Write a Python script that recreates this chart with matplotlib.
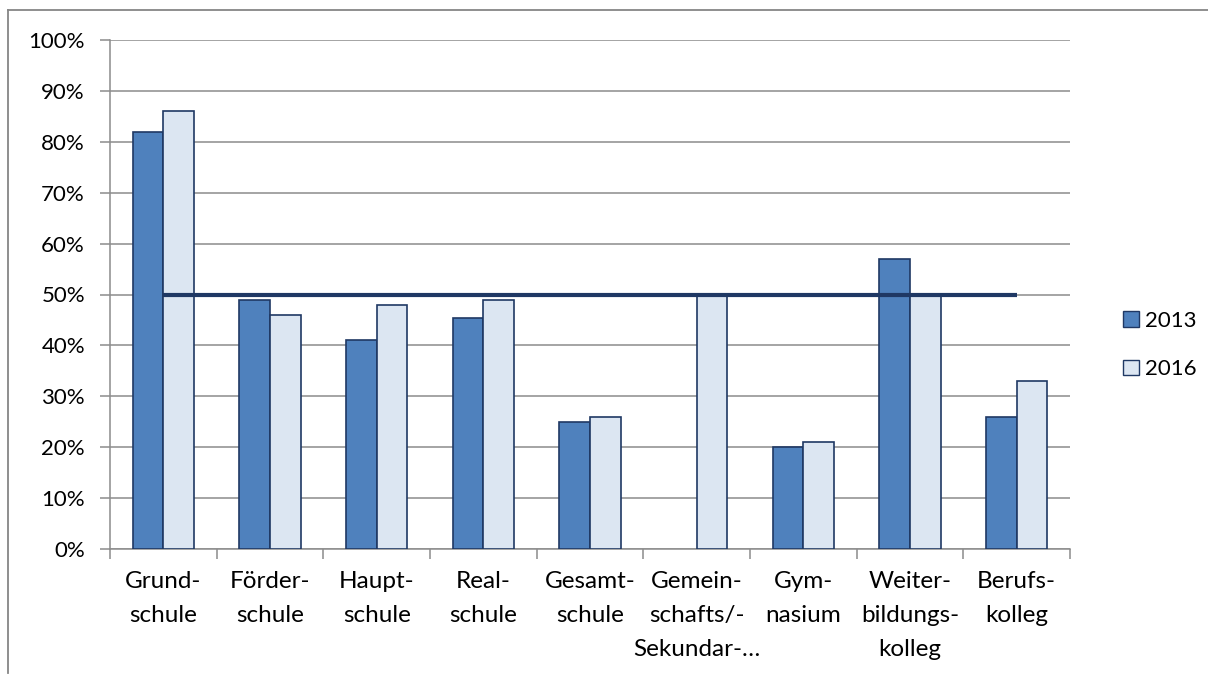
import numpy as np
import matplotlib.pyplot as plt
from matplotlib.lines import Line2D
from matplotlib.patches import Patch

plt.rcParams['font.family'] = ['Lato', 'DejaVu Sans']

categories = ['Grund-\nschule', 'Förder-\nschule', 'Haupt-\nschule', 'Real-\nschule',
              'Gesamt-\nschule', 'Gemein-\nschafts/-\nSekundar-…', 'Gym-\nnasium',
              'Weiter-\nbildungs-\nkolleg', 'Berufs-\nkolleg']
# no 2013 value for Gemeinschafts-/Sekundarschule
values_2013 = [82, 49, 41, 45.3, 25, np.nan, 20, 57, 26]
values_2016 = [86, 46, 48, 49, 26, 50, 21, 50, 33]
target = 50
yticks = np.arange(0, 101, 10)

W, H = 1208, 675
fig = plt.figure(figsize=(W / 100, H / 100), dpi=100)
ax = fig.add_axes([110 / W, 1 - 549 / H, (1070 - 110) / W, (549 - 40) / H])

# outer chart frame (left and top edges visible)
fig.add_artist(Line2D([8 / W, 8 / W], [1 - 673 / H, 1 - 10 / H], color='#868686', lw=1.3,
                      transform=fig.transFigure))
fig.add_artist(Line2D([8 / W, 1.0], [1 - 10 / H, 1 - 10 / H], color='#868686', lw=1.3,
                      transform=fig.transFigure))

x = np.arange(len(categories))
bw = 0.288
edge = '#1F3864'
c13 = '#4F81BD'
c16 = '#DCE6F2'

ax.bar(x - bw / 2, values_2013, bw, color=c13, edgecolor=edge, linewidth=1.2, zorder=3)
ax.bar(x + bw / 2, values_2016, bw, color=c16, edgecolor=edge, linewidth=1.2, zorder=3)
ax.plot([x[0], x[-1]], [target, target], color='#1F3864', lw=3.0, zorder=4,
        solid_capstyle='butt')

ax.set_xlim(-0.5, len(categories) - 0.5)
ax.set_ylim(0, 100)
ax.set_yticks(yticks)
ax.set_yticklabels([f'{v}%' for v in yticks], fontsize=16)
ax.yaxis.grid(True, color='#8C8C8C', lw=1.1, zorder=0)
ax.set_axisbelow(True)

ax.set_xticks(np.arange(len(categories) + 1) - 0.5)
ax.set_xticklabels([])
ax.set_xticks(x, minor=True)
ax.set_xticklabels(categories, minor=True, fontsize=17.5, linespacing=1.75, va='top')
ax.tick_params(axis='x', which='minor', length=0, pad=16)
ax.tick_params(axis='x', which='major', length=7, color='#8C8C8C', width=1.1)
ax.tick_params(axis='y', length=7, color='#8C8C8C', width=1.1, pad=11)

for side in ['top', 'right']:
    ax.spines[side].set_visible(False)
for side in ['left', 'bottom']:
    ax.spines[side].set_color('#8C8C8C')
    ax.spines[side].set_linewidth(1.1)

handles = [Patch(facecolor=c13, edgecolor=edge, label='2013'),
           Patch(facecolor=c16, edgecolor=edge, label='2016')]
fig.legend(handles=handles, loc='center left', bbox_to_anchor=(1103 / W, 1 - 345 / H),
           frameon=False, fontsize=16, handlelength=0.7, handleheight=0.7,
           handletextpad=0.3, labelspacing=1.3)

fig.savefig('out.png', dpi=100)
